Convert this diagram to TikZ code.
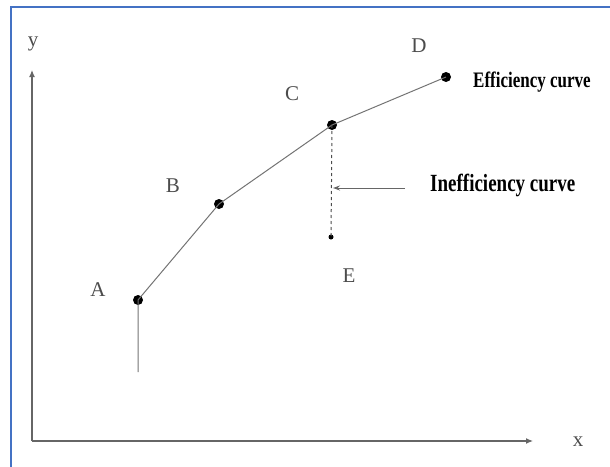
\documentclass[tikz,border=0pt]{standalone}
\usepackage{fontspec}
\setmainfont{Liberation Serif}
\usetikzlibrary{arrows.meta}
\begin{document}
\begin{tikzpicture}[x=1pt,y=-1pt,
  axis/.style={draw=black!60,line width=1.2pt,-{Latex[length=7pt,width=6pt]}},
  curve/.style={draw=black!55,line width=1pt},
  dot/.style={circle,fill=black,inner sep=0pt,minimum size=10pt},
  smalldot/.style={circle,fill=black,inner sep=0pt,minimum size=5pt},
  lbl/.style={text=black!70,font=\fontsize{21}{24}\selectfont,inner sep=0pt},
  note/.style={inner sep=0pt,anchor=west,yscale=1.3}]
\useasboundingbox (0,0) rectangle (610,466);
\draw[draw={rgb,255:red,68;green,114;blue,196},line width=2pt] (11,470) -- (11,7) -- (615,7);
\coordinate (O) at (32,441);
\coordinate (ytip) at (32,70);
\coordinate (xtip) at (533,441);
\draw[axis] (O) -- (ytip);
\draw[axis] (O) -- (xtip);
\node[lbl] (ly) at (33,44) {y};
\node[lbl] (lx) at (578,442) {x};
\node[dot] (A) at (138,300) {};
\node[dot] (B) at (219,204) {};
\node[dot] (C) at (332,125) {};
\node[dot] (D) at (446,77) {};
\node[smalldot] (E) at (331,237) {};
\coordinate (Abot) at (138,372);
\draw[curve] (Abot) -- (A.center) -- (B.center) -- (C.center) -- (D.center);
\draw[black!70,line width=1pt,dashed] (C.center) -- (E.center);
\coordinate (arrS) at (405,188);
\coordinate (arrE) at (333,188);
\draw[black!60,line width=1pt,-{Stealth[length=7pt,width=5pt]}] (arrS) -- (arrE);
\node[lbl] (la) at (98,290) {A};
\node[lbl] (lb) at (173,186) {B};
\node[lbl] (lc) at (292,94) {C};
\node[lbl] (ld) at (419,46) {D};
\node[lbl] (le) at (349,276) {E};
\node[note,font=\bfseries\fontsize{17}{20}\selectfont] (eff) at (473,82) {Efficiency curve};
\node[note,font=\bfseries\fontsize{19}{22}\selectfont] (ineff) at (430,185) {Inefficiency curve};
\end{tikzpicture}
\end{document}
